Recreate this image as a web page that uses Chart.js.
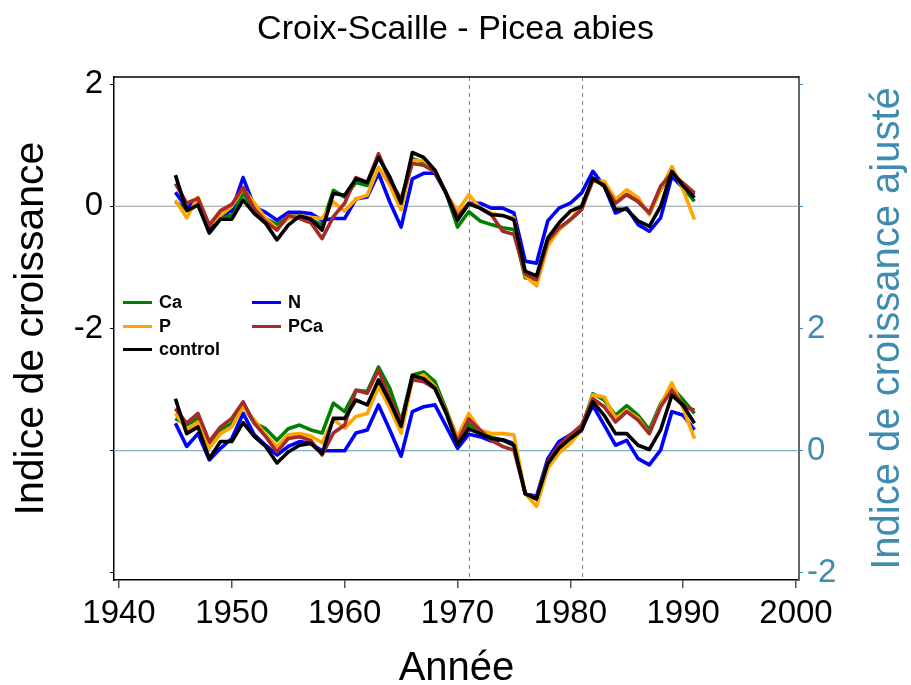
<!DOCTYPE html>
<html lang="fr">
<head>
<meta charset="utf-8">
<title>Croix-Scaille - Picea abies</title>
<style>
  body { margin: 0; background: #fff; }
  #cadre { position: relative; width: 911px; height: 685px; }
  #legende {
    position: absolute; left: 123px; top: 291px;
    display: grid; grid-template-columns: 129px auto;
    font-family: "Liberation Sans", Arial, sans-serif; font-size: 18px; font-weight: bold; color: #000;
  }
  #legende .item { display: flex; align-items: center; height: 23.5px; }
  #legende .trait { display: inline-block; width: 29px; height: 3px; margin-right: 7px; }
</style>
</head>
<body>
<div id="cadre">
  <canvas id="croissanceChart"></canvas>
  <div id="legende"></div>
</div>

<script src="https://cdn.jsdelivr.net/npm/chart.js"></script>
<script>
// Années
const annees = [1945,1946,1947,1948,1949,1950,1951,1952,1953,1954,1955,1956,1957,
  1958,1959,1960,1961,1962,1963,1964,1965,1966,1967,1968,1969,1970,
  1971,1972,1973,1974,1975,1976,1977,1978,1979,1980,1981,1982,1983,1984,1985,1986,1987,1988,1989,1990,1991];

// Indice de croissance (axe gauche)
const caBrut = [0.07,-0.05,0.10,-0.37,-0.15,-0.15,0.21,-0.05,-0.20,-0.30,-0.18,-0.15,-0.22,
  -0.30,0.26,0.15,0.39,0.34,0.83,0.42,0.10,0.78,0.72,0.59,0.21,-0.34,
  -0.09,-0.24,-0.30,-0.35,-0.38,-1.17,-1.20,-0.60,-0.38,-0.22,-0.05,0.46,0.33,0.11,0.19,0.08,-0.11,0.27,0.54,0.30,0.08];
const nBrut = [0.23,-0.03,0.12,-0.37,-0.15,-0.07,0.47,-0.01,-0.10,-0.23,-0.10,-0.10,-0.12,
  -0.23,-0.20,-0.20,0.12,0.15,0.54,0.07,-0.34,0.45,0.54,0.54,0.21,-0.20,
  0.05,0.05,-0.03,-0.03,-0.11,-0.90,-0.93,-0.24,-0.03,0.05,0.22,0.57,0.33,-0.11,-0.03,-0.30,-0.41,-0.19,0.49,0.30,0.19];
const pBrut = [0.10,-0.19,0.15,-0.31,-0.15,0.00,0.29,0.05,-0.20,-0.36,-0.20,-0.15,-0.18,
  -0.20,0.07,-0.08,0.12,0.18,0.64,0.34,-0.06,0.75,0.75,0.59,0.21,-0.08,
  0.19,-0.03,-0.11,-0.16,-0.19,-1.14,-1.30,-0.65,-0.38,-0.22,0.00,0.41,0.41,0.11,0.27,0.14,-0.14,0.27,0.65,0.27,-0.22];
const pcaBrut = [0.37,0.05,0.13,-0.31,-0.07,0.03,0.31,-0.05,-0.25,-0.39,-0.15,-0.20,-0.27,
  -0.53,-0.17,0.05,0.47,0.39,0.86,0.42,0.12,0.70,0.67,0.56,0.21,-0.17,
  0.05,-0.03,-0.14,-0.41,-0.46,-1.11,-1.20,-0.57,-0.35,-0.22,-0.05,0.43,0.35,0.05,0.19,0.08,-0.11,0.33,0.54,0.38,0.22];
const controlBrut = [0.51,-0.07,0.02,-0.44,-0.21,-0.21,0.10,-0.12,-0.28,-0.55,-0.31,-0.16,-0.21,
  -0.39,0.21,0.18,0.45,0.39,0.80,0.48,0.05,0.88,0.80,0.59,0.21,-0.23,
  0.04,-0.03,-0.14,-0.15,-0.22,-1.06,-1.14,-0.52,-0.27,-0.08,0.00,0.46,0.33,-0.05,-0.05,-0.24,-0.33,0.00,0.57,0.33,0.14];

// Indice de croissance ajusté (axe droit)
const caAjuste = [0.53,0.42,0.53,0.12,0.34,0.45,0.74,0.45,0.36,0.17,0.36,0.42,0.34,
  0.29,0.78,0.64,0.99,0.97,1.37,1.02,0.48,1.24,1.29,1.13,0.67,0.18,
  0.43,0.34,0.22,0.17,0.09,-0.70,-0.78,-0.18,0.07,0.23,0.36,0.93,0.83,0.58,0.74,0.58,0.34,0.77,1.04,0.83,0.61];
const nAjuste = [0.45,0.07,0.28,-0.15,0.04,0.20,0.61,0.26,0.09,-0.07,0.07,0.15,0.12,
  0.00,0.00,0.00,0.29,0.34,0.75,0.34,-0.09,0.64,0.72,0.75,0.40,0.04,
  0.27,0.23,0.16,0.18,0.12,-0.70,-0.75,-0.13,0.15,0.26,0.36,0.74,0.42,0.09,0.17,-0.13,-0.23,0.01,0.64,0.58,0.34];
const pAjuste = [0.61,0.34,0.47,0.04,0.28,0.39,0.72,0.50,0.26,0.07,0.26,0.28,0.24,
  0.13,0.51,0.37,0.56,0.61,1.05,0.70,0.29,1.16,1.24,1.05,0.64,0.23,
  0.61,0.34,0.28,0.28,0.26,-0.70,-0.91,-0.29,-0.04,0.12,0.34,0.91,0.88,0.53,0.66,0.53,0.28,0.74,1.11,0.69,0.20];
const pcaAjuste = [0.69,0.45,0.61,0.15,0.39,0.53,0.80,0.45,0.23,-0.02,0.20,0.23,0.17,
  -0.07,0.29,0.42,0.99,0.94,1.32,0.86,0.48,1.16,1.13,1.02,0.64,0.15,
  0.52,0.34,0.17,0.07,0.01,-0.70,-0.78,-0.18,0.09,0.26,0.42,0.85,0.72,0.47,0.64,0.50,0.28,0.72,0.99,0.74,0.66];
const controlAjuste = [0.85,0.28,0.39,-0.13,0.15,0.15,0.46,0.23,0.07,-0.20,-0.02,0.09,0.12,
  -0.05,0.53,0.53,0.83,0.75,1.16,0.80,0.40,1.23,1.18,1.02,0.61,0.10,
  0.36,0.28,0.20,0.18,0.09,-0.70,-0.79,-0.21,0.04,0.20,0.34,0.80,0.58,0.28,0.28,0.09,0.02,0.34,0.91,0.74,0.45];

// Graduations
const xTicks = [1940, 1950, 1960, 1970, 1980, 1990, 2000];
const yTicks = [-6, -4, -2, 0, 2];
const yLabels = [-2, 0, 2];
const y2Ticks = [-2, 0, 2, 4, 6];
const y2Labels = [-2, 0, 2];
const anneesRepere = [1971, 1981];

// Séries (ordre de la légende)
const noms = ['Ca', 'N', 'P', 'PCa', 'control'];
const brut = [caBrut, nBrut, pBrut, pcaBrut, controlBrut];
const ajuste = [caAjuste, nAjuste, pAjuste, pcaAjuste, controlAjuste];
const couleurs = ['#008000', '#0000ff', '#ffa500', '#a52a2a', '#000000'];

const bleuAxe = '#3f8cb0';
const police = '"Liberation Sans", Arial, sans-serif';

// Légende
const legende = document.getElementById('legende');
noms.forEach((nom, i) => {
  const item = document.createElement('div');
  item.className = 'item';
  item.innerHTML = '<span class="trait" style="background:' + couleurs[i] + '"></span>' + nom;
  legende.appendChild(item);
});

function jeu(nom, valeurs, couleur, axe, ordre) {
  return {
    label: nom,
    data: annees.map((a, i) => ({ x: a, y: valeurs[i] })),
    yAxisID: axe,
    borderColor: couleur,
    borderWidth: 3.6,
    borderJoinStyle: 'round',
    pointRadius: 0,
    tension: 0,
    fill: false,
    order: ordre
  };
}

const datasets = [];
noms.forEach((nom, i) => {
  const ordre = noms.length - 1 - i; // control au-dessus
  datasets.push(jeu(nom, brut[i], couleurs[i], 'y', ordre));
  datasets.push(jeu(nom, ajuste[i], couleurs[i], 'y2', ordre));
});

// Lignes de repère, cadre et titre de l'axe droit
const repere = {
  id: 'repere',
  beforeDatasetsDraw(chart) {
    const { ctx, chartArea: a, scales } = chart;
    ctx.save();
    ctx.lineWidth = 1;
    let y0 = scales.y.getPixelForValue(0);
    ctx.strokeStyle = '#9a9a9a';
    ctx.beginPath(); ctx.moveTo(a.left, y0); ctx.lineTo(a.right, y0); ctx.stroke();
    y0 = scales.y2.getPixelForValue(0);
    ctx.strokeStyle = '#5e9cb8';
    ctx.beginPath(); ctx.moveTo(a.left, y0); ctx.lineTo(a.right, y0); ctx.stroke();
    ctx.setLineDash([4, 4]);
    ctx.strokeStyle = '#8a8a8a';
    anneesRepere.forEach(an => {
      const x = Math.round(scales.x.getPixelForValue(an)) + 0.5;
      ctx.beginPath(); ctx.moveTo(x, a.top); ctx.lineTo(x, a.bottom); ctx.stroke();
    });
    ctx.setLineDash([]);
    ctx.strokeStyle = '#000';
    ctx.lineWidth = 1.5;
    ctx.beginPath(); ctx.moveTo(a.left, a.top); ctx.lineTo(a.right, a.top); ctx.stroke();
    ctx.restore();
  },
  afterDraw(chart) {
    const { ctx, chartArea: a, scales } = chart;
    ctx.save();
    ctx.translate(scales.y2.right - 23, (a.top + a.bottom) / 2);
    ctx.rotate(-Math.PI / 2);
    ctx.font = '40px ' + police;
    ctx.fillStyle = bleuAxe;
    ctx.textAlign = 'center';
    ctx.textBaseline = 'middle';
    ctx.fillText('Indice de croissance ajusté', 0, 0);
    ctx.restore();
  }
};

Chart.defaults.font.family = police;

new Chart(document.getElementById('croissanceChart'), {
  type: 'line',
  data: { datasets },
  options: {
    responsive: true,
    maintainAspectRatio: false,
    animation: false,
    layout: { padding: 0 },
    plugins: {
      legend: { display: false },
      tooltip: { enabled: false },
      title: {
        display: true,
        text: 'Croix-Scaille - Picea abies',
        color: '#000',
        font: { size: 34, weight: 'normal' },
        padding: { top: 9, bottom: 27.2 }
      }
    },
    scales: {
      x: {
        type: 'linear',
        min: 1939.557,
        max: 2000.266,
        afterBuildTicks: s => { s.ticks = xTicks.map(v => ({ value: v })); },
        afterFit: s => { s.height = 105; },
        grid: { drawOnChartArea: false, tickLength: 8, color: '#555', lineWidth: 1.5 },
        border: { color: '#000', width: 1.5 },
        ticks: { color: '#000', font: { size: 33 }, padding: 6, maxRotation: 0, autoSkip: false, callback: v => String(v) },
        title: { display: true, text: 'Année', color: '#000', font: { size: 40, lineHeight: 0.8 }, padding: 0 }
      },
      y: {
        position: 'left',
        min: -6.115,
        max: 2.115,
        afterBuildTicks: s => { s.ticks = yTicks.map(v => ({ value: v })); },
        afterFit: s => { s.width = 114; },
        grid: { drawOnChartArea: false, tickLength: 4, color: '#000' },
        border: { color: '#000', width: 1.5 },
        ticks: { color: '#000', font: { size: 33 }, padding: 7, callback: v => yLabels.includes(v) ? String(v) : '' },
        title: { display: true, text: 'Indice de croissance', color: '#000', font: { size: 41 }, padding: { top: 7, bottom: 0 } }
      },
      y2: {
        position: 'right',
        min: -2.115,
        max: 6.115,
        afterBuildTicks: s => { s.ticks = y2Ticks.map(v => ({ value: v })); },
        afterFit: s => { s.width = 112; },
        grid: { drawOnChartArea: false, tickLength: 4, color: bleuAxe },
        border: { color: '#666', width: 2 },
        ticks: { color: bleuAxe, font: { size: 33 }, padding: 4, callback: v => y2Labels.includes(v) ? String(v) : '' }
      }
    }
  },
  plugins: [repere]
});
</script>
</body>
</html>
